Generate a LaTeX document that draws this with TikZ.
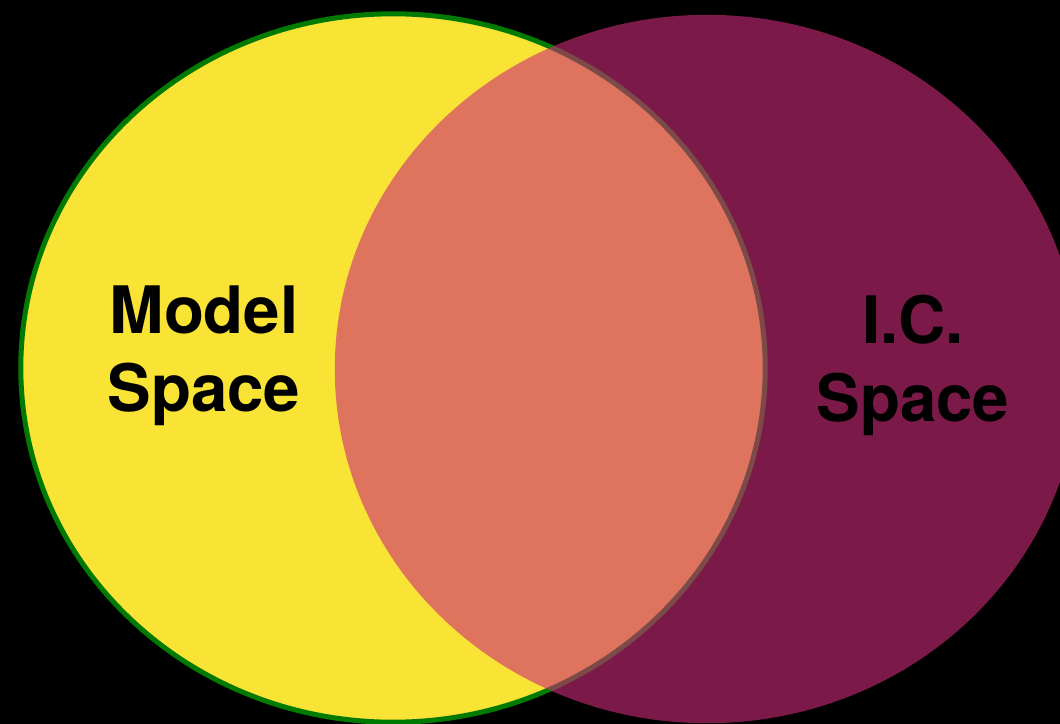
\documentclass[tikz,border=0pt]{standalone}
\usepackage{fontspec}
\setmainfont{TeX Gyre Heros}
\usetikzlibrary{positioning}
\definecolor{modelcol}{RGB}{249,227,52}
\definecolor{edgecol}{RGB}{0,122,0}
\definecolor{iccol}{RGB}{205,43,123}

\begin{document}
\begin{tikzpicture}[
  x=0.01cm, y=-0.01cm,
  space/.style={line width=0.05cm},
  lbl/.style={font=\fontsize{18.6}{22.2}\selectfont\bfseries, align=center,
              text=black, inner sep=0pt},
  ]
  \fill[black] (0,0) rectangle (1060,724);
  \useasboundingbox (0,0) rectangle (1060,724);
  \filldraw[space, fill=modelcol, draw=edgecol] (393,368) ellipse [x radius=3.72cm, y radius=3.54cm];
  \fill[iccol, fill opacity=0.6] (707,369) ellipse [x radius=3.72cm, y radius=3.54cm];
  \node[lbl] (model) at (204,356) {Model\\Space};
  \node[lbl] (ic) at (913,365) {I.C.\\Space};
\end{tikzpicture}
\end{document}
